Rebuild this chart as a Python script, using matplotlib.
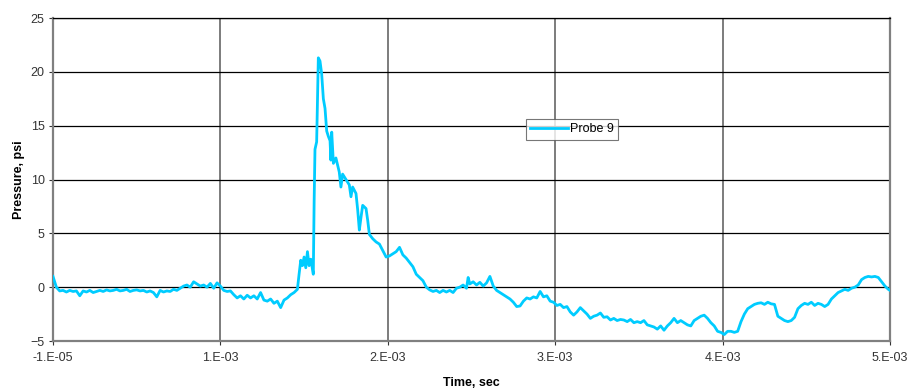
import matplotlib
matplotlib.use("Agg")
import matplotlib.pyplot as plt
import numpy as np

# probe 9 trace (time in ms, pressure in psi)
time_ms = [
    -0.01, 0.01, 0.03, 0.05, 0.07, 0.09, 0.11, 0.13, 0.15, 0.17,
    0.19, 0.21, 0.23, 0.25, 0.27, 0.29, 0.31, 0.33, 0.35, 0.37,
    0.39, 0.41, 0.43, 0.45, 0.47, 0.49, 0.51, 0.53, 0.55, 0.57,
    0.59, 0.61, 0.63, 0.65, 0.67, 0.69, 0.71, 0.73, 0.75, 0.77,
    0.79, 0.81, 0.83, 0.85, 0.87, 0.89, 0.91, 0.93, 0.95, 0.97, 0.99,
    1.01, 1.03, 1.05, 1.07, 1.09, 1.11, 1.13, 1.15, 1.17, 1.19,
    1.21, 1.23, 1.25, 1.27, 1.29, 1.31, 1.33, 1.35, 1.37, 1.39,
    1.41, 1.43, 1.45,
    1.46, 1.47, 1.48, 1.49, 1.50, 1.51, 1.52, 1.53,
    1.545, 1.55, 1.555, 1.565, 1.575, 1.585, 1.595, 1.605, 1.615, 1.625,
    1.635, 1.645, 1.65, 1.655, 1.665, 1.68, 1.70, 1.71, 1.72, 1.74,
    1.76, 1.77, 1.78, 1.80, 1.81, 1.82, 1.83, 1.84, 1.86, 1.87,
    1.88, 1.90,
    1.92, 1.94, 1.96, 1.98, 2.00, 2.02, 2.04, 2.06, 2.08, 2.10,
    2.12, 2.14, 2.16, 2.18, 2.20, 2.22, 2.24, 2.26, 2.28, 2.30,
    2.32, 2.34, 2.36, 2.38, 2.40, 2.42, 2.44, 2.46, 2.47, 2.48,
    2.50, 2.52, 2.54, 2.56, 2.58, 2.60, 2.62, 2.64, 2.66, 2.68,
    2.70, 2.72, 2.74, 2.76, 2.78, 2.80, 2.82, 2.84, 2.86, 2.88,
    2.90, 2.92, 2.94, 2.96, 2.98, 3.00, 3.02, 3.04, 3.06, 3.08,
    3.10, 3.12, 3.14, 3.16, 3.18, 3.20, 3.22, 3.24, 3.26, 3.28,
    3.30, 3.32, 3.34, 3.36, 3.38, 3.40, 3.42, 3.44, 3.46, 3.48,
    3.50, 3.52, 3.54, 3.56, 3.58, 3.60, 3.62, 3.64, 3.66, 3.68,
    3.70, 3.72, 3.74, 3.76, 3.78, 3.80, 3.82, 3.84, 3.86, 3.88,
    3.90, 3.92, 3.94, 3.96, 3.98, 4.00, 4.02, 4.04, 4.06, 4.08,
    4.10, 4.12, 4.14, 4.16, 4.18, 4.20, 4.22, 4.24, 4.26, 4.28,
    4.30, 4.32, 4.34, 4.36, 4.38, 4.40, 4.42, 4.44, 4.46, 4.48,
    4.50, 4.52, 4.54, 4.56, 4.58, 4.60, 4.62, 4.64, 4.66, 4.68,
    4.70, 4.72, 4.74, 4.76, 4.78, 4.80, 4.82, 4.84, 4.86, 4.88,
    4.90, 4.92, 4.94, 4.96, 4.98, 4.99,
]
pressure_psi = [
    1.0, 0.0, -0.35, -0.3, -0.45, -0.3, -0.4, -0.35, -0.8, -0.35,
    -0.45, -0.3, -0.5, -0.4, -0.3, -0.4, -0.25, -0.35, -0.3, -0.2,
    -0.35, -0.3, -0.2, -0.4, -0.3, -0.25, -0.35, -0.3, -0.45, -0.35,
    -0.5, -0.9, -0.3, -0.45, -0.35, -0.4, -0.2, -0.3, -0.1, 0.1,
    0.2, 0.0, 0.5, 0.3, 0.1, 0.2, 0.0, 0.35, -0.1, 0.4, 0.1,
    -0.3, -0.4, -0.35, -0.7, -1.0, -0.8, -1.1, -0.75, -1.0, -0.8,
    -1.1, -0.5, -1.2, -1.3, -1.1, -1.5, -1.3, -1.9, -1.2, -1.0,
    -0.7, -0.5, -0.2,
    1.2, 2.5, 2.0, 2.8, 1.8, 3.3, 2.0, 2.6,
    1.2, 8.0, 12.8, 13.5, 21.3, 21.0, 19.8, 17.5, 16.6, 14.5,
    14.0, 13.6, 11.8, 14.4, 11.5, 12.0, 10.7, 9.3, 10.5, 10.0,
    9.5, 8.4, 9.3, 8.7, 7.2, 5.3, 6.5, 7.6, 7.3, 6.2,
    4.9, 4.5,
    4.2, 4.0, 3.4, 2.8, 2.9, 3.1, 3.3, 3.7, 3.0, 2.7,
    2.3, 1.9, 1.2, 0.9, 0.6, 0.0, -0.25, -0.4, -0.3, -0.5,
    -0.3, -0.45, -0.3, -0.5, -0.1, 0.0, 0.2, -0.1, 0.9, 0.3,
    0.5, 0.2, 0.45, 0.1, 0.4, 1.0, 0.1, -0.3, -0.5, -0.7,
    -0.9, -1.1, -1.4, -1.8, -1.75, -1.3, -1.0, -1.1, -0.9, -1.0,
    -0.4, -0.9, -0.8, -1.3, -1.4, -1.7, -1.6, -1.9, -1.8, -2.3,
    -2.6, -2.3, -1.9, -2.2, -2.5, -2.9, -2.7, -2.6, -2.4, -2.8,
    -2.75, -3.05, -2.9, -3.1, -3.0, -3.05, -3.2, -3.0, -3.3, -3.2,
    -3.3, -3.1, -3.5, -3.6, -3.7, -3.9, -3.6, -4.0, -3.6, -3.3,
    -2.9, -3.3, -3.1, -3.3, -3.5, -3.6, -3.1, -2.9, -2.7, -2.6,
    -2.9, -3.3, -3.6, -4.1, -4.2, -4.4, -4.1, -4.1, -4.2, -4.1,
    -3.2, -2.5, -2.0, -1.8, -1.6, -1.5, -1.45, -1.6, -1.4, -1.55,
    -1.6, -2.7, -2.9, -3.1, -3.2, -3.1, -2.8, -2.0, -1.7, -1.5,
    -1.6, -1.4, -1.7, -1.5, -1.6, -1.8, -1.6, -1.1, -0.8, -0.5,
    -0.35, -0.2, -0.3, -0.1, 0.0, 0.2, 0.7, 0.9, 1.0, 0.95,
    1.0, 0.9, 0.5, 0.1, -0.2, -0.3,
]

x_ticks_ms = [-0.01, 0.99, 1.99, 2.99, 3.99, 4.99]
x_tick_labels = ["-1.E-05", "1.E-03", "2.E-03", "3.E-03", "4.E-03", "5.E-03"]
y_ticks = [-5, 0, 5, 10, 15, 20, 25]

plt.rcParams['font.family'] = ['Liberation Sans', 'DejaVu Sans']

t = np.array(time_ms) * 1e-3
p = np.array(pressure_psi)

fig = plt.figure(figsize=(9.11, 3.89), dpi=100)
ax = fig.add_axes([53 / 911, 1 - 341 / 389, (890 - 53) / 911, (341 - 18) / 389])

ax.plot(t, p, color='#00CCFF', lw=2.0, label='Probe 9', zorder=3)

ax.set_xlim(-0.01e-3, 4.99e-3)
ax.set_ylim(-5, 25)
ax.set_xticks(np.array(x_ticks_ms) * 1e-3)
ax.set_xticklabels(x_tick_labels)
ax.set_yticks(y_ticks)
ax.tick_params(axis='both', labelsize=9, length=3, width=0.8, colors='#333333')
ax.tick_params(axis='x', pad=5)
ax.tick_params(axis='y', pad=3)

ax.yaxis.grid(True, color='black', lw=0.9)
ax.xaxis.grid(True, color='#666666', lw=1.2)
ax.set_axisbelow(True)

for side in ['left', 'bottom', 'right']:
    ax.spines[side].set_color('#808080')
    ax.spines[side].set_linewidth(1.6)
ax.spines['top'].set_color('black')
ax.spines['top'].set_linewidth(0.9)

ax.set_xlabel('Time, sec', fontsize=9, fontweight='bold', labelpad=9)
ax.set_ylabel('Pressure, psi', fontsize=9, fontweight='bold', labelpad=4)

leg = ax.legend(loc='center', bbox_to_anchor=(0.62, 0.655), fontsize=9,
                frameon=True, fancybox=False, handlelength=3.0,
                borderpad=0.35, handletextpad=0.2, borderaxespad=0)
leg.get_frame().set_edgecolor('#555555')
leg.get_frame().set_linewidth(0.8)

fig.savefig('out.png', dpi=100)
